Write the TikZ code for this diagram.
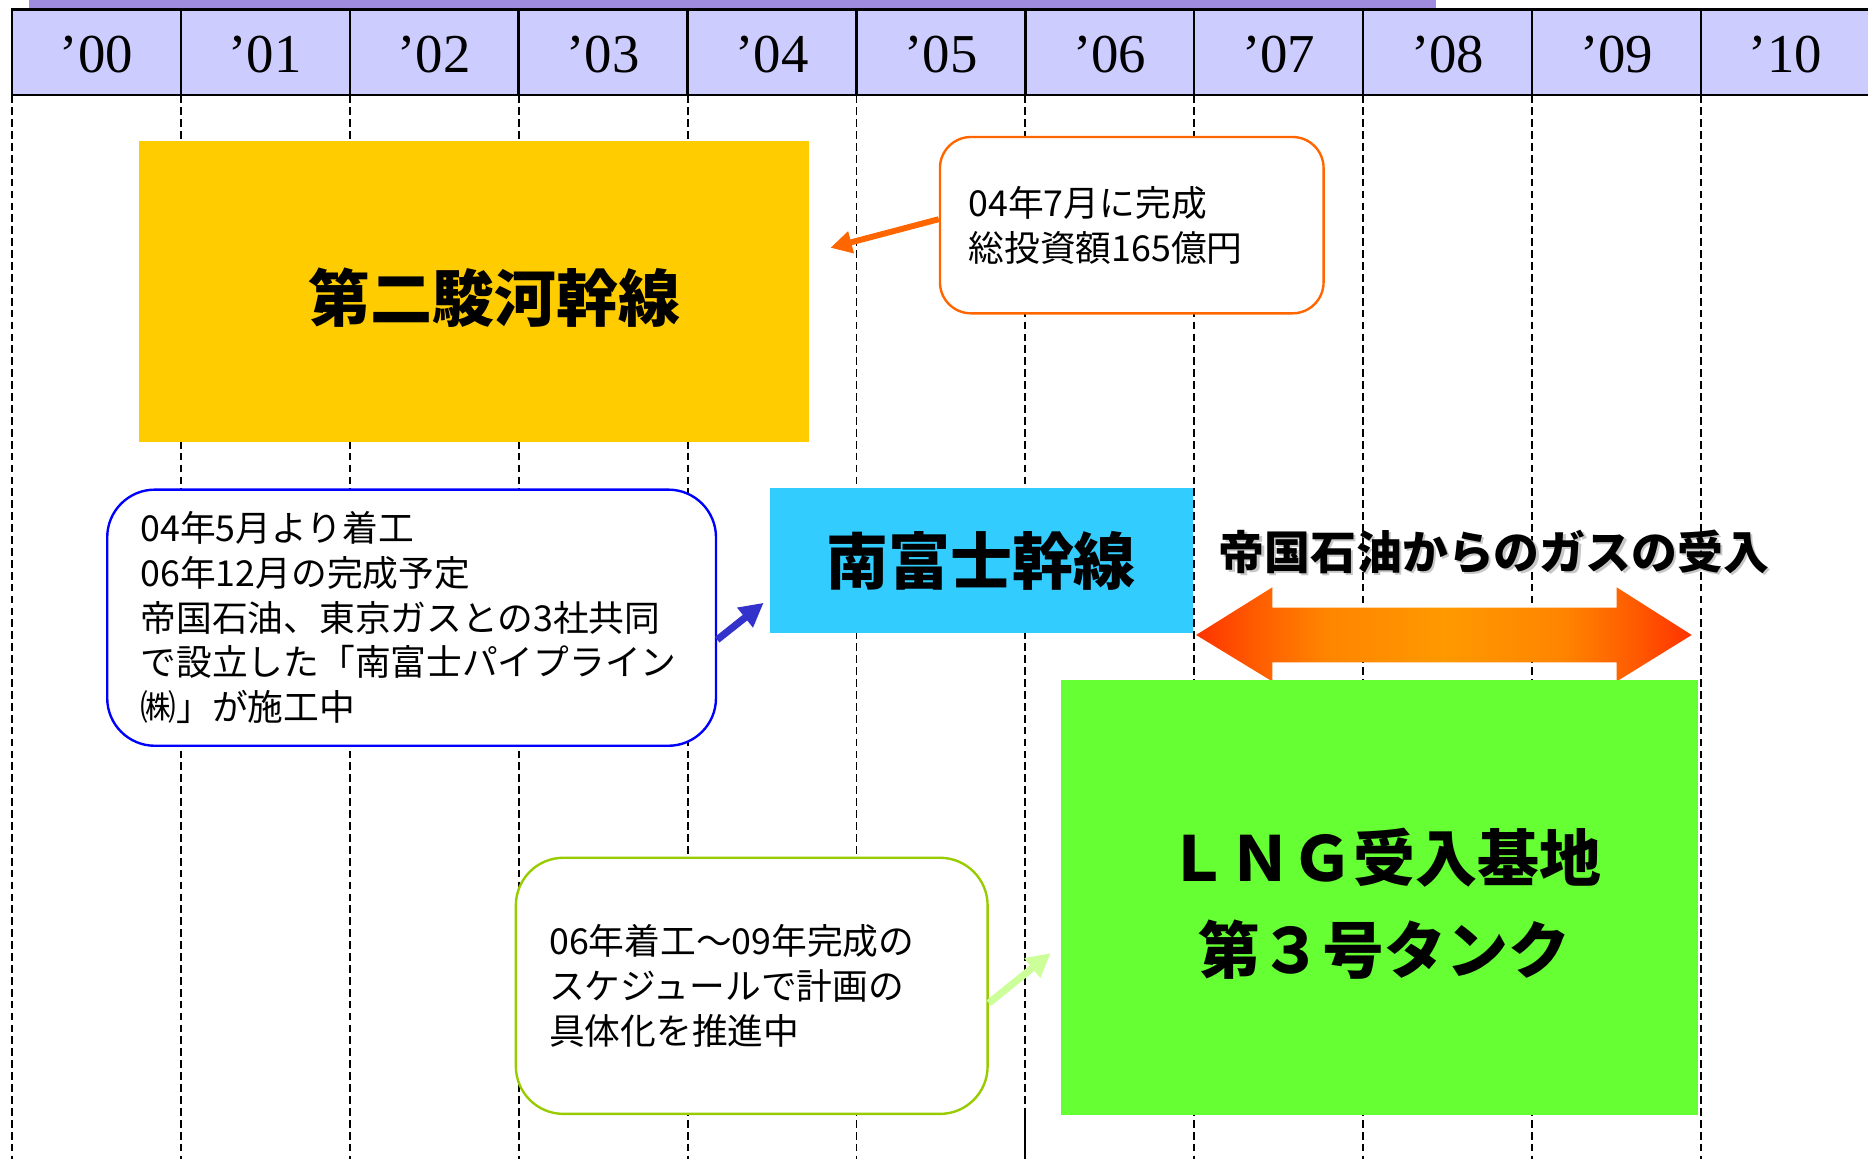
\documentclass[tikz,border=0pt]{standalone}
\usepackage{fontspec}
\setmainfont{Liberation Serif}
\newfontfamily\jp{Noto Sans CJK JP}
\usetikzlibrary{arrows.meta,shadings}
\definecolor{hdrfill}{RGB}{204,204,255}
\definecolor{barpurple}{RGB}{160,140,222}
\definecolor{yellowbox}{RGB}{255,204,0}
\definecolor{cyanbox}{RGB}{51,204,255}
\definecolor{greenbox}{RGB}{102,255,51}
\definecolor{orangeline}{RGB}{255,102,0}
\definecolor{blueline}{RGB}{0,0,255}
\definecolor{bluearrow}{RGB}{51,51,204}
\definecolor{greenline}{RGB}{153,204,0}
\definecolor{greenarrow}{RGB}{204,255,153}
\pgfdeclarehorizontalshading{gasarrow}{100bp}{%
  rgb(0bp)=(1,0.2,0); rgb(25bp)=(1,0.2,0); rgb(31bp)=(1,0.36,0);
  rgb(38bp)=(1,0.52,0); rgb(50bp)=(1,0.6,0); rgb(62bp)=(1,0.52,0);
  rgb(69bp)=(1,0.36,0); rgb(75bp)=(1,0.2,0); rgb(100bp)=(1,0.2,0)}
\begin{document}
\begin{tikzpicture}[x=1pt,y=-1pt,
  yearlbl/.style={font=\fontsize{46}{46}\selectfont, inner sep=0pt},
  gridline/.style={line width=1.6pt, dash pattern=on 6.5pt off 3.5pt},
  callout/.style={draw, fill=white, line width=2pt, rounded corners=32pt, align=left,
     font=\jp\fontsize{30}{37.5}\selectfont, inner ysep=0pt},
  bigbox/.style={inner sep=0pt},
  bigtxt/.style={font=\jp\bfseries\fontsize{52}{77}\selectfont, align=center},
  callarrow/.style={line width=6pt, -{Triangle[length=20pt,width=20pt]}}
]
\useasboundingbox (0,0) rectangle (1568,973);
% top purple bar
\fill[barpurple] (24,0) rectangle (1205,8);
% header row
\draw[fill=hdrfill, line width=2pt] (10,8) rectangle (1569,80);
\foreach \i/\t in {0/00,1/01,2/02,3/03,4/04,5/05,6/06,7/07,8/08,9/09,10/10}{
  \node[yearlbl] (y\i) at ({10+141.78*(\i+0.5)},46) {’\t};
}
\foreach \i in {1,...,10}{
  \draw[line width=2pt] ({10+141.78*\i},8) -- ({10+141.78*\i},80);
}
% dashed grid lines
\foreach \i in {0,...,10}{
  \draw[gridline] ({10+141.78*\i},80) -- ({10+141.78*\i},973);
}
\draw[line width=1.6pt] (860.7,936) -- (860.7,973);

% yellow box
\node[bigbox, fill=yellowbox, minimum width=562pt, minimum height=253pt] (dsk) at (398,244.5) {};
\node[bigtxt] (dsktxt) at (415,250) {第二駿河幹線};

% orange callout
\node[callout, draw=orangeline, minimum width=322pt, minimum height=148pt, inner xsep=24pt,
      text width=274pt, rounded corners=26pt] (oc) at (950,189)
  {04年7月に完成\\総投資額165億円};
\coordinate (oa) at (697,208);
\draw[orangeline, line width=5pt, -{Triangle[length=18pt,width=18pt]}] ([yshift=5pt]oc.west) -- (oa);

% cyan box
\node[bigbox, fill=cyanbox, minimum width=355pt, minimum height=121pt, bigtxt] (mf) at (823.5,470.5) {南富士幹線};

% blue callout
\node[callout, draw=blueline, minimum width=511pt, minimum height=215pt, inner xsep=28pt,
      text width=455pt, rounded corners=40pt] (bc) at (345.5,518.5)
  {04年5月より着工\\06年12月の完成予定\\帝国石油、東京ガスとの3社共同\\で設立した「南富士パイプライン\\㈱」が施工中};
\coordinate (ba) at (641,506);
\draw[bluearrow, callarrow] ([yshift=-18.5pt]bc.east) -- (ba);

% gas label with shadow
\node[font=\jp\bfseries\fontsize{38.5}{38.5}\selectfont, text=black!22] (gasshadow) at (1256,465) {帝国石油からのガスの受入};
\node[font=\jp\bfseries\fontsize{38.5}{38.5}\selectfont] (gas) at (1254,463) {帝国石油からのガスの受入};

% double arrow
\shade[shading=gasarrow]
  (1004,533) -- (1068,493) -- (1068,510) -- (1357,510) -- (1357,493) -- (1420,533)
  -- (1357,572) -- (1357,556) -- (1068,556) -- (1068,572) -- cycle;

% green box
\node[bigbox, fill=greenbox, minimum width=534pt, minimum height=365pt] (lng) at (1158,753.5) {};
\node[bigtxt] (lngtxt) at (1162,758.5) {ＬＮＧ受入基地\\第３号タンク};

% green callout
\node[callout, draw=greenline, minimum width=396pt, minimum height=215pt, inner xsep=28pt,
      text width=340pt, rounded corners=40pt] (gc) at (631,827.5)
  {06年着工～09年完成の\\スケジュールで計画の\\具体化を推進中};
\coordinate (ga) at (882,800);
\draw[greenarrow, callarrow] ([yshift=-14.5pt]gc.east) -- (ga);
\end{tikzpicture}
\end{document}
